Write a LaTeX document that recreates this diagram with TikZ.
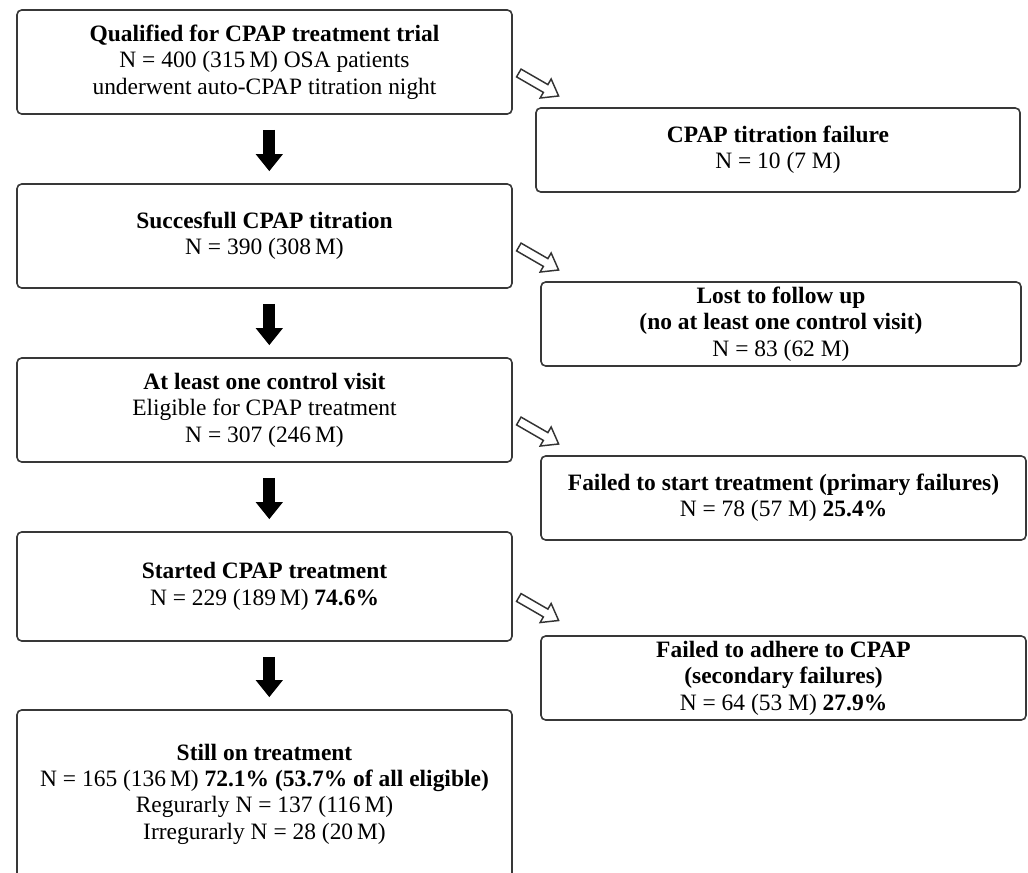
\documentclass[tikz,border=0pt]{standalone}
\usepackage{fontspec}
\setmainfont{Liberation Serif}
\usetikzlibrary{arrows.meta,calc}
\begin{document}
\begin{tikzpicture}[x=0.75pt,y=-0.75pt,
  box/.style={draw=black!78, line width=1.2pt, rounded corners=3.5pt, align=center,
    inner sep=0pt, font=\fontsize{17.6}{19.8}\selectfont},
  lbox/.style={box, minimum width=371.25pt, minimum height=78pt},
  rbox/.style={box, minimum height=63pt},
  barrow/.style={line width=9pt, -{Triangle[width=19.5pt,length=12.75pt]}},
  harrow/.pic={\draw[line width=1.1pt, draw=black!80, fill=white, line join=miter]
     (0,-4.5) -- (31,-4.5) -- (31,-11) -- (46,0) -- (31,11) -- (31,4.5) -- (0,4.5) -- cycle;}]
\useasboundingbox (0,0) rectangle (1028,873);
\clip (0,0) rectangle (1028,873);
\fill[white] (0,0) rectangle (1028,873);

% left column
\node[lbox] (b1) at (264.5,62) {\textbf{Qualified for CPAP treatment trial}\\ N = 400 (315\,M) OSA patients\\ underwent auto-CPAP titration night};
\node[lbox] (b2) at (264.5,236) {\textbf{Succesfull CPAP titration}\\ N = 390 (308\,M)};
\node[lbox] (b3) at (264.5,410) {\textbf{At least one control visit}\\ Eligible for CPAP treatment\\ N = 307 (246\,M)};
\node[lbox, minimum height=81.75pt] (b4) at (264.5,586.5) {\textbf{Started CPAP treatment}\\ N = 229 (189\,M) \textbf{74.6\%}};
\node[lbox, minimum height=126pt] (b5) at (264.5,794) {\textbf{Still on treatment}\\ N = 165 (136\,M) \textbf{72.1\% (53.7\% of all eligible)}\\ Regurarly N = 137 (116\,M)\\ Irregurarly N = 28 (20\,M)};

% right column
\node[rbox, minimum width=363pt] (r1) at (778,150) {\textbf{CPAP titration failure}\\ N = 10 (7 M)};
\node[rbox, minimum width=360pt] (r2) at (781,324) {\textbf{Lost to follow up}\\ \textbf{(no at least one control visit)}\\ N = 83 (62 M)};
\node[rbox, minimum width=363.75pt] (r3) at (783.5,498) {\textbf{Failed to start treatment (primary failures)}\\ N = 78 (57 M) \textbf{25.4\%}};
\node[rbox, minimum width=363.75pt] (r4) at (783.5,678) {\textbf{Failed to adhere to CPAP}\\ \textbf{(secondary failures)}\\ N = 64 (53 M) \textbf{27.9\%}};

% black arrows
\foreach \a/\b in {b1/b2,b2/b3,b3/b4,b4/b5}
  \draw[barrow] ([xshift=3.6pt,yshift=-11.25pt]\a.south) -- ([xshift=3.6pt,yshift=9pt]\b.north);

% hollow arrows
\foreach \a in {b1,b2,b3,b4}
  \pic[rotate=-30] at ($(\a.east)+(6,11)$) {harrow};
\end{tikzpicture}
\end{document}
